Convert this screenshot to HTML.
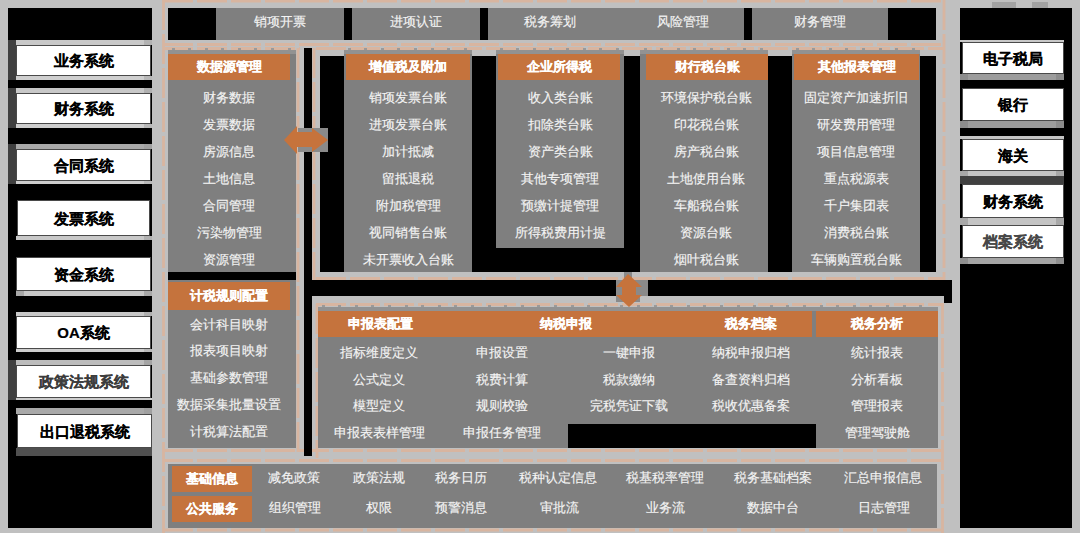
<!DOCTYPE html>
<html><head><meta charset="utf-8"><style>
html,body{margin:0;padding:0;}
body{width:1080px;height:533px;position:relative;overflow:hidden;background:#c0c0c0;font-family:"Liberation Sans",sans-serif;}
div{position:absolute;}
.t{text-align:center;white-space:nowrap;}
</style></head><body>
<svg width="1080" height="533" style="position:absolute;left:0;top:0">
<g stroke="#d8b5a0" stroke-width="2.8" fill="none" stroke-dasharray="30 4">
<line x1="163.5" y1="0" x2="163.5" y2="533"/>
<line x1="944" y1="0" x2="944" y2="296"/>
<line x1="942.5" y1="304" x2="942.5" y2="533"/>
<line x1="298" y1="48" x2="298" y2="452"/>
<line x1="314" y1="48" x2="314" y2="280"/>
<line x1="317" y1="304" x2="317" y2="458"/>
<line x1="163" y1="1" x2="944" y2="1"/>
<line x1="163" y1="44.5" x2="944" y2="44.5"/>
<line x1="163" y1="48.5" x2="300" y2="48.5"/>
<line x1="316" y1="48.5" x2="944" y2="48.5"/>
<line x1="316" y1="278.5" x2="944" y2="278.5"/>
<line x1="316" y1="304.5" x2="944" y2="304.5"/>
<line x1="163" y1="450.5" x2="944" y2="450.5"/>
<line x1="163" y1="460.5" x2="944" y2="460.5"/>
<line x1="163" y1="530" x2="944" y2="530"/>
</g>
</svg>
<div style="left:8px;top:8px;width:144px;height:520px;background:#000;"></div>
<div style="left:8px;top:40px;width:8px;height:40px;background:#404040;"></div>
<div style="left:8px;top:88px;width:8px;height:40px;background:#404040;"></div>
<div style="left:8px;top:144px;width:8px;height:40px;background:#404040;"></div>
<div style="left:8px;top:360px;width:8px;height:40px;background:#404040;"></div>
<div style="left:16px;top:40px;width:136px;height:5px;background:#c8c8c8;"></div>
<div style="left:144px;top:40px;width:8px;height:5px;background:#b2b2b2;"></div>
<div style="left:16px;top:45px;width:135px;height:31px;background:#fff;box-sizing:border-box;border:1px solid #4a4a4a;"></div>
<div class="t" style="left:-66.5px;top:41.0px;width:300px;height:40px;line-height:40px;font-size:15px;color:#000;font-weight:bold;-webkit-text-stroke:0.2px #000;">业务系统</div>
<div style="left:16px;top:76px;width:136px;height:4px;background:#cfcfcf;"></div>
<div style="left:144px;top:76px;width:8px;height:4px;background:#b8b8b8;"></div>
<div style="left:16px;top:88px;width:136px;height:5px;background:#c8c8c8;"></div>
<div style="left:144px;top:88px;width:8px;height:5px;background:#b0b0b0;"></div>
<div style="left:16px;top:93px;width:135px;height:31px;background:#fff;box-sizing:border-box;border:1px solid #4a4a4a;"></div>
<div class="t" style="left:-66.5px;top:89.0px;width:300px;height:40px;line-height:40px;font-size:15px;color:#000;font-weight:bold;-webkit-text-stroke:0.2px #000;">财务系统</div>
<div style="left:16px;top:124px;width:136px;height:4px;background:#cfcfcf;"></div>
<div style="left:144px;top:124px;width:8px;height:4px;background:#b8b8b8;"></div>
<div style="left:16px;top:144px;width:136px;height:5px;background:#a9a9a9;"></div>
<div style="left:144px;top:144px;width:8px;height:5px;background:#a0a0a0;"></div>
<div style="left:16px;top:149px;width:135px;height:32px;background:#fff;box-sizing:border-box;border:1px solid #4a4a4a;"></div>
<div class="t" style="left:-66.5px;top:145.5px;width:300px;height:40px;line-height:40px;font-size:15px;color:#000;font-weight:bold;-webkit-text-stroke:0.2px #000;">合同系统</div>
<div style="left:16px;top:181px;width:136px;height:3px;background:#cdcdcd;"></div>
<div style="left:144px;top:181px;width:8px;height:3px;background:#b8b8b8;"></div>
<div style="left:17px;top:200px;width:133px;height:36px;background:#fff;box-sizing:border-box;border:1px solid #4a4a4a;"></div>
<div class="t" style="left:-66.5px;top:198.5px;width:300px;height:40px;line-height:40px;font-size:15px;color:#000;font-weight:bold;-webkit-text-stroke:0.2px #000;">发票系统</div>
<div style="left:16px;top:236px;width:136px;height:4px;background:#c8c8c8;"></div>
<div style="left:144px;top:236px;width:8px;height:4px;background:#b0b0b0;"></div>
<div style="left:16px;top:257px;width:135px;height:34px;background:#fff;box-sizing:border-box;border:1px solid #4a4a4a;"></div>
<div class="t" style="left:-66.5px;top:254.5px;width:300px;height:40px;line-height:40px;font-size:15px;color:#000;font-weight:bold;-webkit-text-stroke:0.2px #000;">资金系统</div>
<div style="left:16px;top:291px;width:136px;height:5px;background:#c8c8c8;"></div>
<div style="left:16px;top:291px;width:8px;height:5px;background:#a8a8a8;"></div>
<div style="left:144px;top:291px;width:8px;height:5px;background:#a8a8a8;"></div>
<div style="left:16px;top:312px;width:136px;height:4px;background:#c8c8c8;"></div>
<div style="left:144px;top:312px;width:8px;height:4px;background:#b0b0b0;"></div>
<div style="left:16px;top:316px;width:135px;height:33px;background:#fff;box-sizing:border-box;border:1px solid #4a4a4a;"></div>
<div class="t" style="left:-66.5px;top:313.0px;width:300px;height:40px;line-height:40px;font-size:15px;color:#000;font-weight:bold;-webkit-text-stroke:0.2px #000;">OA系统</div>
<div style="left:16px;top:349px;width:136px;height:3px;background:#cdcdcd;"></div>
<div style="left:144px;top:349px;width:8px;height:3px;background:#b8b8b8;"></div>
<div style="left:16px;top:360px;width:136px;height:5px;background:#bcbcbc;"></div>
<div style="left:144px;top:360px;width:8px;height:5px;background:#a4a4a4;"></div>
<div style="left:16px;top:365px;width:135px;height:33px;background:#fff;box-sizing:border-box;border:1px solid #4a4a4a;"></div>
<div class="t" style="left:-66.5px;top:362.0px;width:300px;height:40px;line-height:40px;font-size:15px;color:#3c3c3c;font-weight:bold;-webkit-text-stroke:0.2px #3c3c3c;">政策法规系统</div>
<div style="left:16px;top:398px;width:136px;height:2px;background:#cdcdcd;"></div>
<div style="left:16px;top:408px;width:136px;height:6px;background:#a9a9a9;"></div>
<div style="left:144px;top:408px;width:8px;height:6px;background:#a0a0a0;"></div>
<div style="left:17px;top:414px;width:135px;height:34px;background:#fff;box-sizing:border-box;border:1px solid #4a4a4a;"></div>
<div class="t" style="left:-65.5px;top:411.5px;width:300px;height:40px;line-height:40px;font-size:15px;color:#000;font-weight:bold;-webkit-text-stroke:0.2px #000;">出口退税系统</div>
<div style="left:16px;top:448px;width:136px;height:8px;background:#505050;"></div>
<div style="left:960px;top:8px;width:112px;height:520px;background:#000;"></div>
<div style="left:960px;top:40px;width:104px;height:2px;background:#c8c8c8;"></div>
<div style="left:962px;top:42px;width:102px;height:32px;background:#fff;box-sizing:border-box;border:1px solid #4a4a4a;"></div>
<div class="t" style="left:863.0px;top:38.5px;width:300px;height:40px;line-height:40px;font-size:15px;color:#000;font-weight:bold;-webkit-text-stroke:0.2px #000;">电子税局</div>
<div style="left:960px;top:74px;width:104px;height:6px;background:#9c9c9c;"></div>
<div style="left:960px;top:74px;width:8px;height:6px;background:#8c8c8c;"></div>
<div style="left:1056px;top:74px;width:8px;height:6px;background:#8c8c8c;"></div>
<div style="left:962px;top:88px;width:102px;height:33px;background:#fff;box-sizing:border-box;border:1px solid #4a4a4a;"></div>
<div class="t" style="left:863.0px;top:85.0px;width:300px;height:40px;line-height:40px;font-size:15px;color:#000;font-weight:bold;-webkit-text-stroke:0.2px #000;">银行</div>
<div style="left:960px;top:121px;width:104px;height:7px;background:#9c9c9c;"></div>
<div style="left:960px;top:121px;width:8px;height:7px;background:#8c8c8c;"></div>
<div style="left:1056px;top:121px;width:8px;height:7px;background:#8c8c8c;"></div>
<div style="left:960px;top:136px;width:104px;height:3px;background:#c4c4c4;"></div>
<div style="left:962px;top:139px;width:102px;height:32px;background:#fff;box-sizing:border-box;border:1px solid #4a4a4a;"></div>
<div class="t" style="left:863.0px;top:135.5px;width:300px;height:40px;line-height:40px;font-size:15px;color:#000;font-weight:bold;-webkit-text-stroke:0.2px #000;">海关</div>
<div style="left:960px;top:171px;width:104px;height:5px;background:#c4c4c4;"></div>
<div style="left:960px;top:171px;width:8px;height:5px;background:#a8a8a8;"></div>
<div style="left:1056px;top:171px;width:8px;height:5px;background:#a8a8a8;"></div>
<div style="left:960px;top:176px;width:104px;height:8px;background:#404040;"></div>
<div style="left:962px;top:184px;width:102px;height:34px;background:#fff;box-sizing:border-box;border:1px solid #4a4a4a;"></div>
<div class="t" style="left:863.0px;top:181.5px;width:300px;height:40px;line-height:40px;font-size:15px;color:#000;font-weight:bold;-webkit-text-stroke:0.2px #000;">财务系统</div>
<div style="left:960px;top:218px;width:104px;height:7px;background:#c4c4c4;"></div>
<div style="left:960px;top:218px;width:8px;height:7px;background:#a8a8a8;"></div>
<div style="left:1056px;top:218px;width:8px;height:7px;background:#a8a8a8;"></div>
<div style="left:962px;top:225px;width:102px;height:33px;background:#fff;box-sizing:border-box;border:1px solid #4a4a4a;"></div>
<div class="t" style="left:863.0px;top:222.0px;width:300px;height:40px;line-height:40px;font-size:15px;color:#474747;font-weight:bold;-webkit-text-stroke:0.2px #474747;">档案系统</div>
<div style="left:960px;top:258px;width:104px;height:6px;background:#a4a4a4;"></div>
<div style="left:960px;top:258px;width:8px;height:6px;background:#909090;"></div>
<div style="left:1056px;top:258px;width:8px;height:6px;background:#909090;"></div>
<div style="left:992px;top:2px;width:24px;height:6px;background:#a2a2a2;"></div>
<div style="left:1032px;top:2px;width:16px;height:6px;background:#a2a2a2;"></div>
<div style="left:168px;top:8px;width:768px;height:32px;background:#7f7f7f;"></div>
<div style="left:168px;top:8px;width:48px;height:32px;background:#000;"></div>
<div style="left:344px;top:8px;width:8px;height:32px;background:#000;"></div>
<div style="left:480px;top:8px;width:8px;height:32px;background:#000;"></div>
<div style="left:744px;top:8px;width:8px;height:32px;background:#000;"></div>
<div style="left:888px;top:8px;width:48px;height:32px;background:#000;"></div>
<div class="t" style="left:130.0px;top:1.5px;width:300px;height:40px;line-height:40px;font-size:12.8px;color:#f4f4f4;font-weight:normal;-webkit-text-stroke:0.15px #f4f4f4;">销项开票</div>
<div class="t" style="left:266.0px;top:1.5px;width:300px;height:40px;line-height:40px;font-size:12.8px;color:#f4f4f4;font-weight:normal;-webkit-text-stroke:0.15px #f4f4f4;">进项认证</div>
<div class="t" style="left:400.0px;top:1.5px;width:300px;height:40px;line-height:40px;font-size:12.8px;color:#f4f4f4;font-weight:normal;-webkit-text-stroke:0.15px #f4f4f4;">税务筹划</div>
<div class="t" style="left:533.0px;top:1.5px;width:300px;height:40px;line-height:40px;font-size:12.8px;color:#f4f4f4;font-weight:normal;-webkit-text-stroke:0.15px #f4f4f4;">风险管理</div>
<div class="t" style="left:670.0px;top:1.5px;width:300px;height:40px;line-height:40px;font-size:12.8px;color:#f4f4f4;font-weight:normal;-webkit-text-stroke:0.15px #f4f4f4;">财务管理</div>
<div style="left:168px;top:50px;width:128px;height:222px;background:#7f7f7f;"></div>
<div style="left:168px;top:50px;width:128px;height:4px;background:#929292;"></div>
<div style="left:172px;top:48px;width:3px;height:2px;background:#9a9a9a;"></div>
<div style="left:188px;top:48px;width:3px;height:2px;background:#9a9a9a;"></div>
<div style="left:205px;top:48px;width:3px;height:2px;background:#9a9a9a;"></div>
<div style="left:221px;top:48px;width:3px;height:2px;background:#9a9a9a;"></div>
<div style="left:238px;top:48px;width:3px;height:2px;background:#9a9a9a;"></div>
<div style="left:254px;top:48px;width:3px;height:2px;background:#9a9a9a;"></div>
<div style="left:271px;top:48px;width:3px;height:2px;background:#9a9a9a;"></div>
<div style="left:288px;top:48px;width:3px;height:2px;background:#9a9a9a;"></div>
<div style="left:168px;top:54px;width:122px;height:26px;background:#c5733d;"></div>
<div class="t" style="left:79.0px;top:47px;width:300px;height:40px;line-height:40px;font-size:12.5px;color:#fff;font-weight:bold;-webkit-text-stroke:0.25px #fff;">数据源管理</div>
<div class="t" style="left:79.0px;top:77.8px;width:300px;height:40px;line-height:40px;font-size:12.8px;color:#f4f4f4;font-weight:normal;-webkit-text-stroke:0.15px #f4f4f4;">财务数据</div>
<div class="t" style="left:79.0px;top:104.8px;width:300px;height:40px;line-height:40px;font-size:12.8px;color:#f4f4f4;font-weight:normal;-webkit-text-stroke:0.15px #f4f4f4;">发票数据</div>
<div class="t" style="left:79.0px;top:131.8px;width:300px;height:40px;line-height:40px;font-size:12.8px;color:#f4f4f4;font-weight:normal;-webkit-text-stroke:0.15px #f4f4f4;">房源信息</div>
<div class="t" style="left:79.0px;top:158.8px;width:300px;height:40px;line-height:40px;font-size:12.8px;color:#f4f4f4;font-weight:normal;-webkit-text-stroke:0.15px #f4f4f4;">土地信息</div>
<div class="t" style="left:79.0px;top:185.8px;width:300px;height:40px;line-height:40px;font-size:12.8px;color:#f4f4f4;font-weight:normal;-webkit-text-stroke:0.15px #f4f4f4;">合同管理</div>
<div class="t" style="left:79.0px;top:212.8px;width:300px;height:40px;line-height:40px;font-size:12.8px;color:#f4f4f4;font-weight:normal;-webkit-text-stroke:0.15px #f4f4f4;">污染物管理</div>
<div class="t" style="left:79.0px;top:239.8px;width:300px;height:40px;line-height:40px;font-size:12.8px;color:#f4f4f4;font-weight:normal;-webkit-text-stroke:0.15px #f4f4f4;">资源管理</div>
<div style="left:168px;top:272px;width:128px;height:8px;background:#000;"></div>
<div style="left:168px;top:280px;width:128px;height:168px;background:#7f7f7f;"></div>
<div style="left:168px;top:282px;width:122px;height:28px;background:#c5733d;"></div>
<div class="t" style="left:79.0px;top:276px;width:300px;height:40px;line-height:40px;font-size:12.5px;color:#fff;font-weight:bold;-webkit-text-stroke:0.25px #fff;">计税规则配置</div>
<div class="t" style="left:79.0px;top:304.5px;width:300px;height:40px;line-height:40px;font-size:12.8px;color:#f4f4f4;font-weight:normal;-webkit-text-stroke:0.15px #f4f4f4;">会计科目映射</div>
<div class="t" style="left:79.0px;top:331.3px;width:300px;height:40px;line-height:40px;font-size:12.8px;color:#f4f4f4;font-weight:normal;-webkit-text-stroke:0.15px #f4f4f4;">报表项目映射</div>
<div class="t" style="left:79.0px;top:358.1px;width:300px;height:40px;line-height:40px;font-size:12.8px;color:#f4f4f4;font-weight:normal;-webkit-text-stroke:0.15px #f4f4f4;">基础参数管理</div>
<div class="t" style="left:79.0px;top:384.9px;width:300px;height:40px;line-height:40px;font-size:12.8px;color:#f4f4f4;font-weight:normal;-webkit-text-stroke:0.15px #f4f4f4;">数据采集批量设置</div>
<div class="t" style="left:79.0px;top:411.7px;width:300px;height:40px;line-height:40px;font-size:12.8px;color:#f4f4f4;font-weight:normal;-webkit-text-stroke:0.15px #f4f4f4;">计税算法配置</div>
<div style="left:304px;top:48px;width:8px;height:408px;background:#000;"></div>
<div style="left:320px;top:56px;width:616px;height:216px;background:#000;"></div>
<div style="left:344px;top:50px;width:128px;height:222px;background:#7f7f7f;"></div>
<div style="left:344px;top:50px;width:128px;height:4px;background:#929292;"></div>
<div style="left:348px;top:48px;width:3px;height:2px;background:#9a9a9a;"></div>
<div style="left:364px;top:48px;width:3px;height:2px;background:#9a9a9a;"></div>
<div style="left:381px;top:48px;width:3px;height:2px;background:#9a9a9a;"></div>
<div style="left:397px;top:48px;width:3px;height:2px;background:#9a9a9a;"></div>
<div style="left:414px;top:48px;width:3px;height:2px;background:#9a9a9a;"></div>
<div style="left:431px;top:48px;width:3px;height:2px;background:#9a9a9a;"></div>
<div style="left:447px;top:48px;width:3px;height:2px;background:#9a9a9a;"></div>
<div style="left:464px;top:48px;width:3px;height:2px;background:#9a9a9a;"></div>
<div style="left:346px;top:54px;width:124px;height:26px;background:#c5733d;"></div>
<div class="t" style="left:258.0px;top:47px;width:300px;height:40px;line-height:40px;font-size:12.5px;color:#fff;font-weight:bold;-webkit-text-stroke:0.25px #fff;">增值税及附加</div>
<div class="t" style="left:258.0px;top:77.8px;width:300px;height:40px;line-height:40px;font-size:12.8px;color:#f4f4f4;font-weight:normal;-webkit-text-stroke:0.15px #f4f4f4;">销项发票台账</div>
<div class="t" style="left:258.0px;top:104.8px;width:300px;height:40px;line-height:40px;font-size:12.8px;color:#f4f4f4;font-weight:normal;-webkit-text-stroke:0.15px #f4f4f4;">进项发票台账</div>
<div class="t" style="left:258.0px;top:131.8px;width:300px;height:40px;line-height:40px;font-size:12.8px;color:#f4f4f4;font-weight:normal;-webkit-text-stroke:0.15px #f4f4f4;">加计抵减</div>
<div class="t" style="left:258.0px;top:158.8px;width:300px;height:40px;line-height:40px;font-size:12.8px;color:#f4f4f4;font-weight:normal;-webkit-text-stroke:0.15px #f4f4f4;">留抵退税</div>
<div class="t" style="left:258.0px;top:185.8px;width:300px;height:40px;line-height:40px;font-size:12.8px;color:#f4f4f4;font-weight:normal;-webkit-text-stroke:0.15px #f4f4f4;">附加税管理</div>
<div class="t" style="left:258.0px;top:212.8px;width:300px;height:40px;line-height:40px;font-size:12.8px;color:#f4f4f4;font-weight:normal;-webkit-text-stroke:0.15px #f4f4f4;">视同销售台账</div>
<div class="t" style="left:258.0px;top:239.8px;width:300px;height:40px;line-height:40px;font-size:12.8px;color:#f4f4f4;font-weight:normal;-webkit-text-stroke:0.15px #f4f4f4;">未开票收入台账</div>
<div style="left:496px;top:50px;width:128px;height:198px;background:#7f7f7f;"></div>
<div style="left:496px;top:50px;width:128px;height:4px;background:#929292;"></div>
<div style="left:500px;top:48px;width:3px;height:2px;background:#9a9a9a;"></div>
<div style="left:516px;top:48px;width:3px;height:2px;background:#9a9a9a;"></div>
<div style="left:533px;top:48px;width:3px;height:2px;background:#9a9a9a;"></div>
<div style="left:549px;top:48px;width:3px;height:2px;background:#9a9a9a;"></div>
<div style="left:566px;top:48px;width:3px;height:2px;background:#9a9a9a;"></div>
<div style="left:583px;top:48px;width:3px;height:2px;background:#9a9a9a;"></div>
<div style="left:599px;top:48px;width:3px;height:2px;background:#9a9a9a;"></div>
<div style="left:616px;top:48px;width:3px;height:2px;background:#9a9a9a;"></div>
<div style="left:498px;top:54px;width:122px;height:26px;background:#c5733d;"></div>
<div class="t" style="left:409.0px;top:47px;width:300px;height:40px;line-height:40px;font-size:12.5px;color:#fff;font-weight:bold;-webkit-text-stroke:0.25px #fff;">企业所得税</div>
<div class="t" style="left:410.0px;top:77.8px;width:300px;height:40px;line-height:40px;font-size:12.8px;color:#f4f4f4;font-weight:normal;-webkit-text-stroke:0.15px #f4f4f4;">收入类台账</div>
<div class="t" style="left:410.0px;top:104.8px;width:300px;height:40px;line-height:40px;font-size:12.8px;color:#f4f4f4;font-weight:normal;-webkit-text-stroke:0.15px #f4f4f4;">扣除类台账</div>
<div class="t" style="left:410.0px;top:131.8px;width:300px;height:40px;line-height:40px;font-size:12.8px;color:#f4f4f4;font-weight:normal;-webkit-text-stroke:0.15px #f4f4f4;">资产类台账</div>
<div class="t" style="left:410.0px;top:158.8px;width:300px;height:40px;line-height:40px;font-size:12.8px;color:#f4f4f4;font-weight:normal;-webkit-text-stroke:0.15px #f4f4f4;">其他专项管理</div>
<div class="t" style="left:410.0px;top:185.8px;width:300px;height:40px;line-height:40px;font-size:12.8px;color:#f4f4f4;font-weight:normal;-webkit-text-stroke:0.15px #f4f4f4;">预缴计提管理</div>
<div class="t" style="left:410.0px;top:212.8px;width:300px;height:40px;line-height:40px;font-size:12.8px;color:#f4f4f4;font-weight:normal;-webkit-text-stroke:0.15px #f4f4f4;">所得税费用计提</div>
<div style="left:640px;top:50px;width:128px;height:222px;background:#7f7f7f;"></div>
<div style="left:640px;top:50px;width:128px;height:4px;background:#929292;"></div>
<div style="left:644px;top:48px;width:3px;height:2px;background:#9a9a9a;"></div>
<div style="left:660px;top:48px;width:3px;height:2px;background:#9a9a9a;"></div>
<div style="left:677px;top:48px;width:3px;height:2px;background:#9a9a9a;"></div>
<div style="left:693px;top:48px;width:3px;height:2px;background:#9a9a9a;"></div>
<div style="left:710px;top:48px;width:3px;height:2px;background:#9a9a9a;"></div>
<div style="left:727px;top:48px;width:3px;height:2px;background:#9a9a9a;"></div>
<div style="left:743px;top:48px;width:3px;height:2px;background:#9a9a9a;"></div>
<div style="left:760px;top:48px;width:3px;height:2px;background:#9a9a9a;"></div>
<div style="left:646px;top:54px;width:122px;height:26px;background:#c5733d;"></div>
<div class="t" style="left:557.0px;top:47px;width:300px;height:40px;line-height:40px;font-size:12.5px;color:#fff;font-weight:bold;-webkit-text-stroke:0.25px #fff;">财行税台账</div>
<div class="t" style="left:556.0px;top:77.8px;width:300px;height:40px;line-height:40px;font-size:12.8px;color:#f4f4f4;font-weight:normal;-webkit-text-stroke:0.15px #f4f4f4;">环境保护税台账</div>
<div class="t" style="left:556.0px;top:104.8px;width:300px;height:40px;line-height:40px;font-size:12.8px;color:#f4f4f4;font-weight:normal;-webkit-text-stroke:0.15px #f4f4f4;">印花税台账</div>
<div class="t" style="left:556.0px;top:131.8px;width:300px;height:40px;line-height:40px;font-size:12.8px;color:#f4f4f4;font-weight:normal;-webkit-text-stroke:0.15px #f4f4f4;">房产税台账</div>
<div class="t" style="left:556.0px;top:158.8px;width:300px;height:40px;line-height:40px;font-size:12.8px;color:#f4f4f4;font-weight:normal;-webkit-text-stroke:0.15px #f4f4f4;">土地使用台账</div>
<div class="t" style="left:556.0px;top:185.8px;width:300px;height:40px;line-height:40px;font-size:12.8px;color:#f4f4f4;font-weight:normal;-webkit-text-stroke:0.15px #f4f4f4;">车船税台账</div>
<div class="t" style="left:556.0px;top:212.8px;width:300px;height:40px;line-height:40px;font-size:12.8px;color:#f4f4f4;font-weight:normal;-webkit-text-stroke:0.15px #f4f4f4;">资源台账</div>
<div class="t" style="left:556.0px;top:239.8px;width:300px;height:40px;line-height:40px;font-size:12.8px;color:#f4f4f4;font-weight:normal;-webkit-text-stroke:0.15px #f4f4f4;">烟叶税台账</div>
<div style="left:792px;top:50px;width:128px;height:222px;background:#7f7f7f;"></div>
<div style="left:792px;top:50px;width:128px;height:4px;background:#929292;"></div>
<div style="left:796px;top:48px;width:3px;height:2px;background:#9a9a9a;"></div>
<div style="left:812px;top:48px;width:3px;height:2px;background:#9a9a9a;"></div>
<div style="left:829px;top:48px;width:3px;height:2px;background:#9a9a9a;"></div>
<div style="left:845px;top:48px;width:3px;height:2px;background:#9a9a9a;"></div>
<div style="left:862px;top:48px;width:3px;height:2px;background:#9a9a9a;"></div>
<div style="left:879px;top:48px;width:3px;height:2px;background:#9a9a9a;"></div>
<div style="left:895px;top:48px;width:3px;height:2px;background:#9a9a9a;"></div>
<div style="left:912px;top:48px;width:3px;height:2px;background:#9a9a9a;"></div>
<div style="left:794px;top:54px;width:125px;height:26px;background:#c5733d;"></div>
<div class="t" style="left:706.5px;top:47px;width:300px;height:40px;line-height:40px;font-size:12.5px;color:#fff;font-weight:bold;-webkit-text-stroke:0.25px #fff;">其他报表管理</div>
<div class="t" style="left:706.0px;top:77.8px;width:300px;height:40px;line-height:40px;font-size:12.8px;color:#f4f4f4;font-weight:normal;-webkit-text-stroke:0.15px #f4f4f4;">固定资产加速折旧</div>
<div class="t" style="left:706.0px;top:104.8px;width:300px;height:40px;line-height:40px;font-size:12.8px;color:#f4f4f4;font-weight:normal;-webkit-text-stroke:0.15px #f4f4f4;">研发费用管理</div>
<div class="t" style="left:706.0px;top:131.8px;width:300px;height:40px;line-height:40px;font-size:12.8px;color:#f4f4f4;font-weight:normal;-webkit-text-stroke:0.15px #f4f4f4;">项目信息管理</div>
<div class="t" style="left:706.0px;top:158.8px;width:300px;height:40px;line-height:40px;font-size:12.8px;color:#f4f4f4;font-weight:normal;-webkit-text-stroke:0.15px #f4f4f4;">重点税源表</div>
<div class="t" style="left:706.0px;top:185.8px;width:300px;height:40px;line-height:40px;font-size:12.8px;color:#f4f4f4;font-weight:normal;-webkit-text-stroke:0.15px #f4f4f4;">千户集团表</div>
<div class="t" style="left:706.0px;top:212.8px;width:300px;height:40px;line-height:40px;font-size:12.8px;color:#f4f4f4;font-weight:normal;-webkit-text-stroke:0.15px #f4f4f4;">消费税台账</div>
<div class="t" style="left:706.0px;top:239.8px;width:300px;height:40px;line-height:40px;font-size:12.8px;color:#f4f4f4;font-weight:normal;-webkit-text-stroke:0.15px #f4f4f4;">车辆购置税台账</div>
<div style="left:304px;top:280px;width:648px;height:16px;background:#000;"></div>
<div style="left:944px;top:296px;width:8px;height:7px;background:#000;"></div>
<div style="left:318px;top:307px;width:620px;height:141px;background:#7f7f7f;"></div>
<div style="left:318px;top:307px;width:620px;height:4px;background:#929292;"></div>
<div style="left:322px;top:305px;width:3px;height:2px;background:#9a9a9a;"></div>
<div style="left:338px;top:305px;width:3px;height:2px;background:#9a9a9a;"></div>
<div style="left:355px;top:305px;width:3px;height:2px;background:#9a9a9a;"></div>
<div style="left:371px;top:305px;width:3px;height:2px;background:#9a9a9a;"></div>
<div style="left:388px;top:305px;width:3px;height:2px;background:#9a9a9a;"></div>
<div style="left:405px;top:305px;width:3px;height:2px;background:#9a9a9a;"></div>
<div style="left:421px;top:305px;width:3px;height:2px;background:#9a9a9a;"></div>
<div style="left:438px;top:305px;width:3px;height:2px;background:#9a9a9a;"></div>
<div style="left:454px;top:305px;width:3px;height:2px;background:#9a9a9a;"></div>
<div style="left:471px;top:305px;width:3px;height:2px;background:#9a9a9a;"></div>
<div style="left:488px;top:305px;width:3px;height:2px;background:#9a9a9a;"></div>
<div style="left:504px;top:305px;width:3px;height:2px;background:#9a9a9a;"></div>
<div style="left:521px;top:305px;width:3px;height:2px;background:#9a9a9a;"></div>
<div style="left:537px;top:305px;width:3px;height:2px;background:#9a9a9a;"></div>
<div style="left:554px;top:305px;width:3px;height:2px;background:#9a9a9a;"></div>
<div style="left:571px;top:305px;width:3px;height:2px;background:#9a9a9a;"></div>
<div style="left:587px;top:305px;width:3px;height:2px;background:#9a9a9a;"></div>
<div style="left:604px;top:305px;width:3px;height:2px;background:#9a9a9a;"></div>
<div style="left:620px;top:305px;width:3px;height:2px;background:#9a9a9a;"></div>
<div style="left:637px;top:305px;width:3px;height:2px;background:#9a9a9a;"></div>
<div style="left:654px;top:305px;width:3px;height:2px;background:#9a9a9a;"></div>
<div style="left:670px;top:305px;width:3px;height:2px;background:#9a9a9a;"></div>
<div style="left:687px;top:305px;width:3px;height:2px;background:#9a9a9a;"></div>
<div style="left:703px;top:305px;width:3px;height:2px;background:#9a9a9a;"></div>
<div style="left:720px;top:305px;width:3px;height:2px;background:#9a9a9a;"></div>
<div style="left:737px;top:305px;width:3px;height:2px;background:#9a9a9a;"></div>
<div style="left:753px;top:305px;width:3px;height:2px;background:#9a9a9a;"></div>
<div style="left:770px;top:305px;width:3px;height:2px;background:#9a9a9a;"></div>
<div style="left:786px;top:305px;width:3px;height:2px;background:#9a9a9a;"></div>
<div style="left:803px;top:305px;width:3px;height:2px;background:#9a9a9a;"></div>
<div style="left:820px;top:305px;width:3px;height:2px;background:#9a9a9a;"></div>
<div style="left:836px;top:305px;width:3px;height:2px;background:#9a9a9a;"></div>
<div style="left:853px;top:305px;width:3px;height:2px;background:#9a9a9a;"></div>
<div style="left:869px;top:305px;width:3px;height:2px;background:#9a9a9a;"></div>
<div style="left:886px;top:305px;width:3px;height:2px;background:#9a9a9a;"></div>
<div style="left:903px;top:305px;width:3px;height:2px;background:#9a9a9a;"></div>
<div style="left:919px;top:305px;width:3px;height:2px;background:#9a9a9a;"></div>
<div style="left:318px;top:311px;width:494px;height:26px;background:#c5733d;"></div>
<div style="left:816px;top:311px;width:122px;height:26px;background:#c5733d;"></div>
<div class="t" style="left:230.0px;top:304px;width:300px;height:40px;line-height:40px;font-size:12.5px;color:#fff;font-weight:bold;-webkit-text-stroke:0.25px #fff;">申报表配置</div>
<div class="t" style="left:416.0px;top:304px;width:300px;height:40px;line-height:40px;font-size:12.5px;color:#fff;font-weight:bold;-webkit-text-stroke:0.25px #fff;">纳税申报</div>
<div class="t" style="left:601.0px;top:304px;width:300px;height:40px;line-height:40px;font-size:12.5px;color:#fff;font-weight:bold;-webkit-text-stroke:0.25px #fff;">税务档案</div>
<div class="t" style="left:727.0px;top:304px;width:300px;height:40px;line-height:40px;font-size:12.5px;color:#fff;font-weight:bold;-webkit-text-stroke:0.25px #fff;">税务分析</div>
<div class="t" style="left:229.0px;top:333.0px;width:300px;height:40px;line-height:40px;font-size:12.8px;color:#f4f4f4;font-weight:normal;-webkit-text-stroke:0.15px #f4f4f4;">指标维度定义</div>
<div class="t" style="left:229.0px;top:359.5px;width:300px;height:40px;line-height:40px;font-size:12.8px;color:#f4f4f4;font-weight:normal;-webkit-text-stroke:0.15px #f4f4f4;">公式定义</div>
<div class="t" style="left:229.0px;top:386.0px;width:300px;height:40px;line-height:40px;font-size:12.8px;color:#f4f4f4;font-weight:normal;-webkit-text-stroke:0.15px #f4f4f4;">模型定义</div>
<div class="t" style="left:229.0px;top:412.5px;width:300px;height:40px;line-height:40px;font-size:12.8px;color:#f4f4f4;font-weight:normal;-webkit-text-stroke:0.15px #f4f4f4;">申报表表样管理</div>
<div class="t" style="left:352.0px;top:333.0px;width:300px;height:40px;line-height:40px;font-size:12.8px;color:#f4f4f4;font-weight:normal;-webkit-text-stroke:0.15px #f4f4f4;">申报设置</div>
<div class="t" style="left:352.0px;top:359.5px;width:300px;height:40px;line-height:40px;font-size:12.8px;color:#f4f4f4;font-weight:normal;-webkit-text-stroke:0.15px #f4f4f4;">税费计算</div>
<div class="t" style="left:352.0px;top:386.0px;width:300px;height:40px;line-height:40px;font-size:12.8px;color:#f4f4f4;font-weight:normal;-webkit-text-stroke:0.15px #f4f4f4;">规则校验</div>
<div class="t" style="left:352.0px;top:412.5px;width:300px;height:40px;line-height:40px;font-size:12.8px;color:#f4f4f4;font-weight:normal;-webkit-text-stroke:0.15px #f4f4f4;">申报任务管理</div>
<div class="t" style="left:479.0px;top:333.0px;width:300px;height:40px;line-height:40px;font-size:12.8px;color:#f4f4f4;font-weight:normal;-webkit-text-stroke:0.15px #f4f4f4;">一键申报</div>
<div class="t" style="left:479.0px;top:359.5px;width:300px;height:40px;line-height:40px;font-size:12.8px;color:#f4f4f4;font-weight:normal;-webkit-text-stroke:0.15px #f4f4f4;">税款缴纳</div>
<div class="t" style="left:479.0px;top:386.0px;width:300px;height:40px;line-height:40px;font-size:12.8px;color:#f4f4f4;font-weight:normal;-webkit-text-stroke:0.15px #f4f4f4;">完税凭证下载</div>
<div class="t" style="left:601.0px;top:333.0px;width:300px;height:40px;line-height:40px;font-size:12.8px;color:#f4f4f4;font-weight:normal;-webkit-text-stroke:0.15px #f4f4f4;">纳税申报归档</div>
<div class="t" style="left:601.0px;top:359.5px;width:300px;height:40px;line-height:40px;font-size:12.8px;color:#f4f4f4;font-weight:normal;-webkit-text-stroke:0.15px #f4f4f4;">备查资料归档</div>
<div class="t" style="left:601.0px;top:386.0px;width:300px;height:40px;line-height:40px;font-size:12.8px;color:#f4f4f4;font-weight:normal;-webkit-text-stroke:0.15px #f4f4f4;">税收优惠备案</div>
<div class="t" style="left:727.0px;top:333.0px;width:300px;height:40px;line-height:40px;font-size:12.8px;color:#f4f4f4;font-weight:normal;-webkit-text-stroke:0.15px #f4f4f4;">统计报表</div>
<div class="t" style="left:727.0px;top:359.5px;width:300px;height:40px;line-height:40px;font-size:12.8px;color:#f4f4f4;font-weight:normal;-webkit-text-stroke:0.15px #f4f4f4;">分析看板</div>
<div class="t" style="left:727.0px;top:386.0px;width:300px;height:40px;line-height:40px;font-size:12.8px;color:#f4f4f4;font-weight:normal;-webkit-text-stroke:0.15px #f4f4f4;">管理报表</div>
<div class="t" style="left:727.0px;top:412.5px;width:300px;height:40px;line-height:40px;font-size:12.8px;color:#f4f4f4;font-weight:normal;-webkit-text-stroke:0.15px #f4f4f4;">管理驾驶舱</div>
<div style="left:568px;top:424px;width:248px;height:24px;background:#000;"></div>
<div style="left:168px;top:464px;width:769px;height:64px;background:#7f7f7f;"></div>
<div style="left:172px;top:466px;width:80px;height:26px;background:#c5733d;"></div>
<div style="left:172px;top:496px;width:80px;height:26px;background:#c5733d;"></div>
<div class="t" style="left:61.5px;top:458.8px;width:300px;height:40px;line-height:40px;font-size:12.5px;color:#fff;font-weight:bold;-webkit-text-stroke:0.25px #fff;">基础信息</div>
<div class="t" style="left:61.5px;top:488.8px;width:300px;height:40px;line-height:40px;font-size:12.5px;color:#fff;font-weight:bold;-webkit-text-stroke:0.25px #fff;">公共服务</div>
<div class="t" style="left:144.0px;top:458px;width:300px;height:40px;line-height:40px;font-size:12.8px;color:#f4f4f4;font-weight:normal;-webkit-text-stroke:0.15px #f4f4f4;">减免政策</div>
<div class="t" style="left:229.0px;top:458px;width:300px;height:40px;line-height:40px;font-size:12.8px;color:#f4f4f4;font-weight:normal;-webkit-text-stroke:0.15px #f4f4f4;">政策法规</div>
<div class="t" style="left:311.0px;top:458px;width:300px;height:40px;line-height:40px;font-size:12.8px;color:#f4f4f4;font-weight:normal;-webkit-text-stroke:0.15px #f4f4f4;">税务日历</div>
<div class="t" style="left:408.0px;top:458px;width:300px;height:40px;line-height:40px;font-size:12.8px;color:#f4f4f4;font-weight:normal;-webkit-text-stroke:0.15px #f4f4f4;">税种认定信息</div>
<div class="t" style="left:515.0px;top:458px;width:300px;height:40px;line-height:40px;font-size:12.8px;color:#f4f4f4;font-weight:normal;-webkit-text-stroke:0.15px #f4f4f4;">税基税率管理</div>
<div class="t" style="left:623.0px;top:458px;width:300px;height:40px;line-height:40px;font-size:12.8px;color:#f4f4f4;font-weight:normal;-webkit-text-stroke:0.15px #f4f4f4;">税务基础档案</div>
<div class="t" style="left:733.0px;top:458px;width:300px;height:40px;line-height:40px;font-size:12.8px;color:#f4f4f4;font-weight:normal;-webkit-text-stroke:0.15px #f4f4f4;">汇总申报信息</div>
<div class="t" style="left:145.0px;top:488px;width:300px;height:40px;line-height:40px;font-size:12.8px;color:#f4f4f4;font-weight:normal;-webkit-text-stroke:0.15px #f4f4f4;">组织管理</div>
<div class="t" style="left:229.0px;top:488px;width:300px;height:40px;line-height:40px;font-size:12.8px;color:#f4f4f4;font-weight:normal;-webkit-text-stroke:0.15px #f4f4f4;">权限</div>
<div class="t" style="left:311.0px;top:488px;width:300px;height:40px;line-height:40px;font-size:12.8px;color:#f4f4f4;font-weight:normal;-webkit-text-stroke:0.15px #f4f4f4;">预警消息</div>
<div class="t" style="left:409.0px;top:488px;width:300px;height:40px;line-height:40px;font-size:12.8px;color:#f4f4f4;font-weight:normal;-webkit-text-stroke:0.15px #f4f4f4;">审批流</div>
<div class="t" style="left:515.0px;top:488px;width:300px;height:40px;line-height:40px;font-size:12.8px;color:#f4f4f4;font-weight:normal;-webkit-text-stroke:0.15px #f4f4f4;">业务流</div>
<div class="t" style="left:622.5px;top:488px;width:300px;height:40px;line-height:40px;font-size:12.8px;color:#f4f4f4;font-weight:normal;-webkit-text-stroke:0.15px #f4f4f4;">数据中台</div>
<div class="t" style="left:733.5px;top:488px;width:300px;height:40px;line-height:40px;font-size:12.8px;color:#f4f4f4;font-weight:normal;-webkit-text-stroke:0.15px #f4f4f4;">日志管理</div>
<div style="left:298px;top:128px;width:30px;height:24px;background:#8a8a8a;"></div>
<div style="left:616px;top:280px;width:32px;height:16px;background:#8a8a8a;"></div>
<div style="left:616px;top:296px;width:24px;height:6px;background:#8a8a8a;"></div>
<div style="left:624px;top:272px;width:8px;height:7px;background:#8a8a8a;"></div>
<svg width="1080" height="533" style="position:absolute;left:0;top:0">
<polygon points="284,140 297,126 297,132 312,132 312,128 328,140 312,152 312,147 297,147 297,154" fill="#c6733c"/>
<polygon points="628,274 642,287 636,287 636,295 642,295 629,307 616,295 622,295 622,287 616,287" fill="#c6733c"/>
</svg>
</body></html>
